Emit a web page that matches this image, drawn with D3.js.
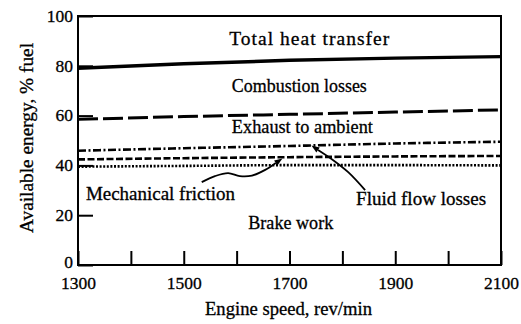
<!DOCTYPE html>
<html>
<head>
<meta charset="utf-8">
<script src="https://cdn.jsdelivr.net/npm/d3@7"></script>
<style>
  html, body { margin: 0; padding: 0; background: #fff; }
  svg { display: block; }
  text { font-family: "Liberation Serif", "Times New Roman", serif; fill: #000; }
</style>
</head>
<body>
<svg id="chart" width="521" height="324"></svg>
<script>
// Engine speed samples (rev/min)
const speeds = [1300, 1500, 1700, 1900, 2100];

// Cumulative energy boundaries, % of fuel energy, at each speed
const totalHeatTransfer = [79.0, 80.8, 82.2, 83.1, 83.7];   // top of combustion losses band
const combustionLosses  = [58.5, 59.6, 60.5, 61.4, 62.3];   // top of exhaust band
const exhaustToAmbient  = [45.9, 46.9, 47.8, 48.8, 49.5];   // top of fluid flow band
const fluidFlowLosses   = [42.4, 42.9, 43.3, 43.6, 43.8];   // top of mechanical friction band
const mechFriction      = [39.5, 39.8, 40.1, 40.1, 40.0];   // top of brake work band

// Axis ticks and labels
const xTicks = [1300, 1400, 1500, 1600, 1700, 1800, 1900, 2000, 2100];
const xTickLabels = [1300, 1500, 1700, 1900, 2100];
const yTicks = [0, 20, 40, 60, 80, 100];

// Region labels: text, anchor speed, anchor % fuel, drawn width, font size
const regionNames  = ["Total heat transfer", "Combustion losses", "Exhaust to ambient",
                      "Mechanical friction", "Fluid flow losses", "Brake work"];
const regionSpeeds = [1586, 1591, 1591, 1315, 1826, 1622];
const regionValues = [88.4, 69.5, 53.0, 26.1, 24.1, 14.5];
const regionWidths = [160, 135, 141, 149, 130, 85];
const regionSizes  = [19.5, 18.5, 18.5, 18.5, 18.5, 18.5];

// Leader curves from labels to their bands (speed, % fuel)
const frictionLeaderSpeeds = [1534, 1559, 1584, 1606, 1629, 1654, 1674];
const frictionLeaderValues = [33.3, 35.7, 36.9, 35.7, 35.9, 38.2, 41.0];
const fluidLeaderSpeeds = [1843, 1811, 1782, 1754];
const fluidLeaderValues = [30.1, 37.3, 42.2, 46.2];

const svg = d3.select("#chart");
const x = d3.scaleLinear().domain([1300, 2100]).range([78, 501]);
const y = d3.scaleLinear().domain([0, 100]).range([265, 16]);

// Axes with inward ticks
const xAxis = d3.axisBottom(x)
  .tickValues(xTicks)
  .tickSize(-14)
  .tickPadding(11.5)
  .tickFormat(d => xTickLabels.includes(d) ? String(d) : "");
const gx = svg.append("g").attr("transform", `translate(0,${y(0)})`).call(xAxis);

const yAxis = d3.axisLeft(y)
  .tickValues(yTicks)
  .tickSize(-15)
  .tickPadding(5)
  .tickFormat(d => String(d));
const gy = svg.append("g").attr("transform", `translate(${x(1300)},0)`).call(yAxis);

[gx, gy].forEach(g => {
  g.select(".domain").remove();
  g.selectAll(".tick line").attr("stroke", "#000").attr("stroke-width", 2);
  g.selectAll(".tick text")
    .attr("font-family", "Liberation Serif, serif")
    .attr("font-size", 17.5)
    .attr("fill", "#000")
    .attr("stroke", "#000").attr("stroke-width", 0.3);
});
// the zero label sits a little higher, clear of the speed labels
gy.selectAll(".tick text").attr("dy", d => d === 0 ? "0.17em" : "0.3em");

// Plot frame
svg.append("rect")
  .attr("x", x(1300)).attr("y", y(100))
  .attr("width", x(2100) - x(1300)).attr("height", y(0) - y(100))
  .attr("fill", "none").attr("stroke", "#000").attr("stroke-width", 2);

// Band boundary curves
const series = [
  { values: totalHeatTransfer, dash: null,          width: 3.4 },
  { values: combustionLosses,  dash: "20 5",        width: 3.0 },
  { values: exhaustToAmbient,  dash: "8 2.5 2 2.5", width: 2.6 },
  { values: fluidFlowLosses,   dash: "7 2.5",       width: 2.6 },
  { values: mechFriction,      dash: "2 1.6",       width: 2.6 }
];
const line = d3.line()
  .x((d, i) => x(speeds[i]))
  .y(d => y(d))
  .curve(d3.curveMonotoneX);
series.forEach(s => {
  svg.append("path")
    .datum(s.values)
    .attr("d", line)
    .attr("fill", "none")
    .attr("stroke", "#000")
    .attr("stroke-width", s.width)
    .attr("stroke-dasharray", s.dash);
});

// Region labels
regionNames.forEach((name, i) => {
  svg.append("text")
    .attr("x", x(regionSpeeds[i]))
    .attr("y", y(regionValues[i]))
    .attr("font-size", regionSizes[i])
    .attr("textLength", regionWidths[i])
    .attr("lengthAdjust", i === 0 ? "spacing" : "spacingAndGlyphs")
    .attr("stroke", "#000").attr("stroke-width", 0.3)
    .text(name);
});

// Leader lines with arrowheads
function leader(speedsArr, valuesArr) {
  const pts = speedsArr.map((s, i) => [x(s), y(valuesArr[i])]);
  svg.append("path")
    .attr("d", d3.line().curve(d3.curveCatmullRom)(pts))
    .attr("fill", "none").attr("stroke", "#000").attr("stroke-width", 1.8);
  const [ax, ay] = pts[pts.length - 1];
  const [bx, by] = pts[pts.length - 2];
  const ang = Math.atan2(ay - by, ax - bx);
  const len = 8, half = 3;
  const tip = [ax + Math.cos(ang) * len, ay + Math.sin(ang) * len];
  const l = [ax + Math.cos(ang + Math.PI / 2) * half, ay + Math.sin(ang + Math.PI / 2) * half];
  const r = [ax + Math.cos(ang - Math.PI / 2) * half, ay + Math.sin(ang - Math.PI / 2) * half];
  svg.append("path")
    .attr("d", `M${tip}L${l}L${r}Z`)
    .attr("fill", "#000");
}
leader(frictionLeaderSpeeds, frictionLeaderValues);
leader(fluidLeaderSpeeds, fluidLeaderValues);

// Axis titles
svg.append("text")
  .attr("x", 205).attr("y", 315)
  .attr("font-size", 18.5)
  .attr("textLength", 167).attr("lengthAdjust", "spacingAndGlyphs")
  .attr("stroke", "#000").attr("stroke-width", 0.3)
  .text("Engine speed, rev/min");

svg.append("text")
  .attr("transform", "translate(33,233) rotate(-90)")
  .attr("font-size", 19)
  .attr("textLength", 190).attr("lengthAdjust", "spacingAndGlyphs")
  .attr("stroke", "#000").attr("stroke-width", 0.3)
  .text("Available energy, % fuel");
</script>
</body>
</html>
